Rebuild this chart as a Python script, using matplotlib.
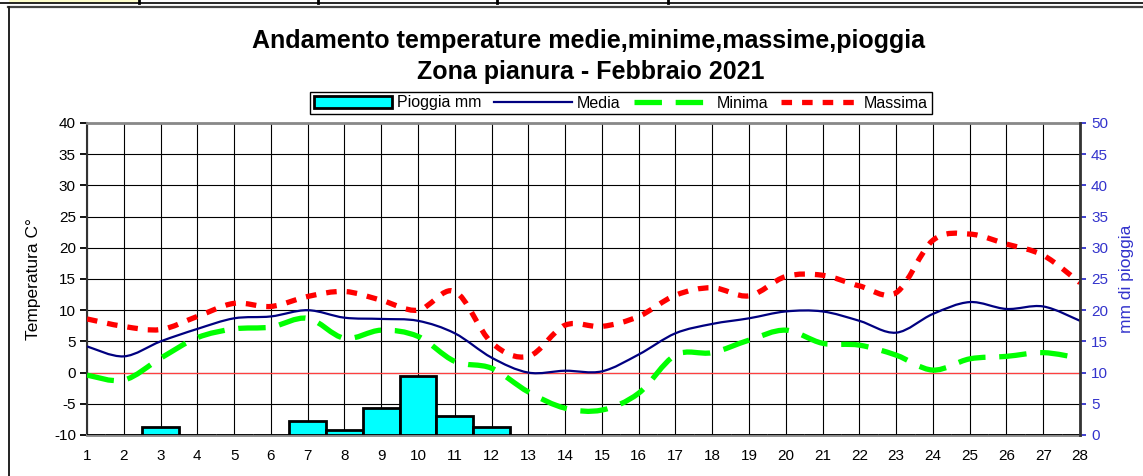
import matplotlib
matplotlib.use("Agg")
import matplotlib.pyplot as plt
from matplotlib.path import Path
from matplotlib.patches import PathPatch, Rectangle
from matplotlib.lines import Line2D

plt.rcParams['font.family'] = ['Liberation Sans', 'DejaVu Sans']
plt.rcParams['axes.unicode_minus'] = False

# dati febbraio 2021
giorni = list(range(1, 29))
media = [4.2, 2.6, 5.0, 7.0, 8.7, 9.0, 10.0, 8.8, 8.6, 8.3, 6.3, 2.4, 0.0, 0.3,
         0.2, 2.9, 6.3, 7.8, 8.7, 9.8, 9.8, 8.3, 6.4, 9.4, 11.3, 10.2, 10.6, 8.3]
minima = [-0.4, -1.2, 2.3, 5.6, 7.0, 7.3, 8.7, 5.5, 6.8, 5.8, 1.8, 0.7, -3.1, -5.7,
          -6.0, -3.3, 2.8, 3.2, 5.2, 6.8, 4.7, 4.4, 2.8, 0.4, 2.2, 2.6, 3.2, 2.3]
massima = [8.6, 7.4, 6.9, 9.0, 11.1, 10.6, 12.2, 13.0, 11.6, 10.0, 13.0, 4.8, 2.6, 7.6,
           7.4, 9.0, 12.4, 13.6, 12.3, 15.4, 15.6, 13.9, 12.8, 21.2, 22.2, 20.6, 18.8, 14.4]
pioggia = [0, 0, 1.3, 0, 0, 0, 2.2, 0.8, 4.4, 9.5, 3.0, 1.3, 0, 0,
           0, 0, 0, 0, 0, 0, 0, 0, 0, 0, 0, 0, 0, 0]
tick_temp = [-10, -5, 0, 5, 10, 15, 20, 25, 30, 35, 40]
tick_mm = [0, 5, 10, 15, 20, 25, 30, 35, 40, 45, 50]

W, H = 1143, 476
fig = plt.figure(figsize=(W / 100, H / 100), dpi=100)


def curva(xs, ys):
    # linea smussata tipo excel (bezier)
    n = len(xs)
    verts = [(xs[0], ys[0])]
    codes = [Path.MOVETO]
    for i in range(n - 1):
        a = max(i - 1, 0)
        b = min(i + 2, n - 1)
        c1 = (xs[i] + (xs[i + 1] - xs[a]) / 6, ys[i] + (ys[i + 1] - ys[a]) / 6)
        c2 = (xs[i + 1] - (xs[b] - xs[i]) / 6, ys[i + 1] - (ys[b] - ys[i]) / 6)
        verts += [c1, c2, (xs[i + 1], ys[i + 1])]
        codes += [Path.CURVE4] * 3
    return Path(verts, codes)


ax = fig.add_axes([87 / W, 41 / H, 993 / W, 312 / H])
ax.set_xlim(1, 28)
ax.set_ylim(-10, 40)
ax.set_xticks(giorni)
ax.set_yticks(tick_temp)
ax.grid(True, color='black', lw=0.8)
ax.set_axisbelow(True)
ax.axhline(0, color='#FF4040', lw=0.9, zorder=2)

stile_min = (0, (5.2, 2.6))
stile_max = (0, (2.0, 1.9))
ax.add_patch(PathPatch(curva(giorni, media), fill=False, edgecolor='#000080', lw=1.6, zorder=3))
ax.add_patch(PathPatch(curva(giorni, minima), fill=False, edgecolor='#00FF00', lw=3.8,
                       linestyle=stile_min, capstyle='butt', zorder=3))
ax.add_patch(PathPatch(curva(giorni, massima), fill=False, edgecolor='#FF0000', lw=3.8,
                       linestyle=stile_max, capstyle='butt', zorder=3))

ax.tick_params(axis='x', length=0, pad=10, labelsize=11)
ax.tick_params(axis='y', length=5, width=1.3, pad=3, labelsize=11, direction='out')
ax.set_ylabel('Temperatura C°', fontsize=12.5)
ax.yaxis.set_label_coords(-0.046, 0.5)
for s in ['top', 'bottom']:
    ax.spines[s].set_color('#888888')
    ax.spines[s].set_linewidth(2)
ax.spines['left'].set_color('#333333')
ax.spines['left'].set_linewidth(1.5)

ax2 = ax.twinx()
ax2.set_ylim(0, 50)
ax2.set_yticks(tick_mm)
ax2.bar(giorni, pioggia, width=1, color='#00FFFF', edgecolor='black', lw=2, zorder=2)
ax2.tick_params(axis='y', length=4, width=1.3, pad=4, labelsize=11, colors='#3333CC')
ax2.spines['right'].set_color('#333333')
ax2.spines['right'].set_linewidth(2)
for s in ['top', 'bottom', 'left']:
    ax2.spines[s].set_visible(False)
ax2.set_ylabel('mm di pioggia', fontsize=12.5, color='#3333CC')
ax2.yaxis.set_label_coords(1.039, 0.5)

# titolo
fig.text(588 / W, 1 - 41 / H, 'Andamento temperature medie,minime,massime,pioggia',
         ha='center', va='center', fontsize=18, fontweight='bold')
fig.text(591 / W, 1 - 72 / H, 'Zona pianura - Febbraio 2021',
         ha='center', va='center', fontsize=18, fontweight='bold')

# legenda
h = [Rectangle((0, 0), 1, 1, facecolor='#00FFFF', edgecolor='black', lw=2),
     Line2D([], [], color='#000080', lw=1.6),
     Line2D([], [], color='#00FF00', lw=3.8, linestyle=stile_min),
     Line2D([], [], color='#FF0000', lw=3.8, linestyle=stile_max)]
leg = fig.legend(h, ['Pioggia mm', 'Media', 'Minima', 'Massima'], ncol=4,
                 loc='center', bbox_to_anchor=(621 / W, 1 - 103 / H),
                 fontsize=11.5, handlelength=4.9, handletextpad=0.3,
                 columnspacing=0.8, borderpad=0.25, fancybox=False,
                 edgecolor='black', framealpha=1)
leg.get_frame().set_linewidth(1)

# cornice del foglio
def px(x0, y0, x1, y1, **kw):
    fig.add_artist(Line2D([x0 / W, x1 / W], [1 - y0 / H, 1 - y1 / H],
                          transform=fig.transFigure, **kw))

fig.add_artist(Rectangle((9 / W, 1 - 3 / H), 129 / W, 3 / H, transform=fig.transFigure,
                         facecolor='#FFFFCC', edgecolor='none'))
px(0, 3, W, 3, color='black', lw=1.2)
for xv in [139, 318, 497, 668]:
    px(xv, 0, xv, 3, color='black', lw=2)
px(8, 7, W, 7, color='#444444', lw=1.6)
px(9, 7, 9, H, color='#222222', lw=1.4)

fig.savefig('out.png', dpi=100)
